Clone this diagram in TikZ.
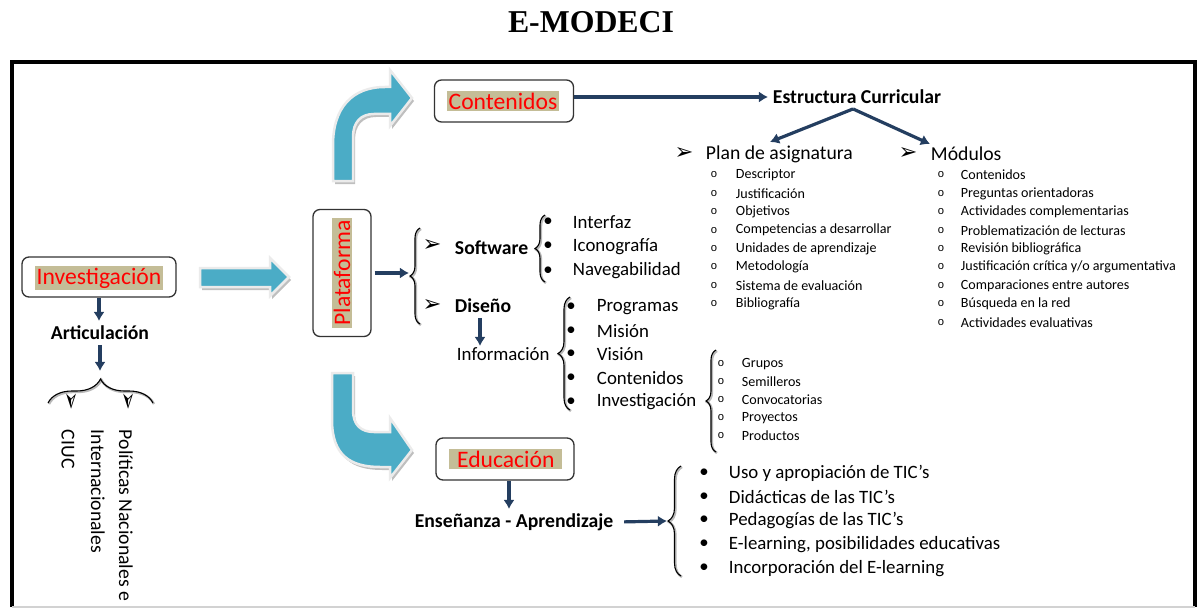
\documentclass[tikz,border=0pt]{standalone}
\usepackage{fontspec}
\setmainfont{Carlito}
\newfontfamily\titlefont{Liberation Serif}
\newfontfamily\symfont{DejaVu Sans}
\newfontfamily\ofont{Liberation Mono}
\usetikzlibrary{arrows.meta,decorations.pathreplacing}

\definecolor{tanbg}{RGB}{196,189,151}
\definecolor{darrow}{RGB}{36,62,96}
\definecolor{bluearrow}{RGB}{75,172,198}
\newdimen\pxd \pxd=0.025cm

\tikzset{
  outbox/.style={draw=black!80, line width=1.3\pxd, rounded corners=7\pxd, fill=white},
  tanlbl/.style={fill=tanbg, text=red, inner xsep=2\pxd, inner ysep=1.5\pxd, font=\fontsize{16.8}{18}\selectfont},
  darr/.style={draw=darrow, line width=3.2\pxd, -{Latex[length=6.5pt,width=8pt]}},
  brc/.style={decorate, decoration={brace}, line width=1.1\pxd},
  brcshade/.style={brc, gray!55, line width=2.4\pxd},
  boldlbl/.style={font=\bfseries\fontsize{14}{16}\selectfont},
  item/.style={anchor=west, font=\fontsize{13.4}{16}\selectfont},
  smallitem/.style={anchor=west, font=\fontsize{10}{12}\selectfont},
  dot/.style={font=\fontsize{13.4}{16}\selectfont},
  circ/.style={font=\ofont\fontsize{8}{9}\selectfont},
  pointer/.style={font=\symfont\fontsize{16}{16}\selectfont, inner sep=0pt},
  bluearr/.style={fill=bluearrow, draw=black!8, line width=2.5\pxd},
  blueshadow/.style={fill=gray!50, shift={(2,3)}}
}

\begin{document}
\begin{tikzpicture}[x=0.025cm, y=-0.025cm]
\useasboundingbox (0,0) rectangle (1199,611);

\node[font=\titlefont\bfseries\fontsize{22.6}{26}\selectfont] (title) at (591,22) {E-MODECI};

% frame
\draw[line width=3.5\pxd] (12,607) -- (12,62) -- (1195,62) -- (1195,607);
\draw[gray!35, line width=1.5\pxd] (12,607) -- (1195,607);

% big arrows
\fill[blueshadow] (200,268) -- (270,268) -- (270,258) -- (289,277) -- (270,296) -- (270,287) -- (200,287) -- cycle;
\filldraw[bluearr] (200,268) -- (270,268) -- (270,258) -- (289,277) -- (270,296) -- (270,287) -- (200,287) -- cycle;

\fill[blueshadow] (333,181) -- (333,145) .. controls (333,108) and (352,87) .. (385,87) -- (390,87) -- (390,70) -- (412,98) -- (390,126) -- (390,114) -- (374,114) .. controls (361,114) and (353,122) .. (353,137) -- (353,181) -- cycle;
\filldraw[bluearr] (333,181) -- (333,145) .. controls (333,108) and (352,87) .. (385,87) -- (390,87) -- (390,70) -- (412,98) -- (390,126) -- (390,114) -- (374,114) .. controls (361,114) and (353,122) .. (353,137) -- (353,181) -- cycle;

\fill[blueshadow] (332,373) -- (332,420) .. controls (332,455) and (350,467) .. (380,467) -- (390,467) -- (390,478) -- (412,450) -- (390,418) -- (390,432) -- (374,432) .. controls (361,432) and (353,425) .. (353,410) -- (353,373) -- cycle;
\filldraw[bluearr] (332,373) -- (332,420) .. controls (332,455) and (350,467) .. (380,467) -- (390,467) -- (390,478) -- (412,450) -- (390,418) -- (390,432) -- (374,432) .. controls (361,432) and (353,425) .. (353,410) -- (353,373) -- cycle;

% Investigacion
\node[outbox, minimum width=154\pxd, minimum height=40\pxd] (invbox) at (99,277) {};
\node[tanlbl] (inv) at (99,278) {Investigación};
\node[boldlbl] (art) at (100,333) {Articulación};
\draw[darr] (invbox.south) -- (invbox.south |- art.north);
\coordinate (arttip) at (100,371);
\draw[darr] (art.south) -- (arttip);
\draw[brcshade, decoration={amplitude=24\pxd}] (49,404) -- (154,404);
\draw[brc, decoration={amplitude=24\pxd}] (48,403) -- (153,403);
\node[pointer, rotate=-90] (ptA) at (70,401) {➢};
\node[pointer, rotate=-90] (ptB) at (127,401) {➢};
\node[rotate=-90, anchor=west, font=\fontsize{14}{19.9}\selectfont] (ciuc) at (68,425) {CIUC};
\node[rotate=-90, anchor=west, align=left, font=\fontsize{14}{19.9}\selectfont] (polit) at (112,425) {Políticas Nacionales e\\Internacionales};

% Plataforma
\node[outbox, minimum width=58\pxd, minimum height=127\pxd] (platbox) at (342,273) {};
\node[tanlbl, rotate=90] (plat) at (342,273) {Plataforma};
\coordinate (plattip) at (409,273);
\draw[darr, shorten <=3\pxd] (platbox.east) -- (plattip);
\draw[brcshade, decoration={amplitude=10\pxd}] (421,325) -- (421,229);
\draw[brc, decoration={amplitude=10\pxd}] (420,324) -- (420,228);

\node[pointer] (ptsoft) at (432,246) {➢};
\node[boldlbl, anchor=west] (soft) at (450,248) {Software};
\node[pointer] (ptdis) at (432,305) {➢};
\node[boldlbl, anchor=west] (dis) at (450,306) {Diseño};

\draw[brcshade, decoration={amplitude=10\pxd}] (546,283) -- (546,216);
\draw[brc, decoration={amplitude=10\pxd}] (545,282) -- (545,215);
\foreach \txt [count=\i] in {Interfaz, Iconografía, Navegabilidad} {
  \node[dot] (sd\i) at (548,{222+24.5*(\i-1)}) {•};
  \node[item] (sw\i) at (568,{222+24.5*(\i-1)}) {\txt};
}

\node[item] (info) at (452,354) {Información};
\draw[darr] (dis.south -| 480,0) -- (480,346);
\draw[brcshade, decoration={amplitude=12\pxd}] (571,411) -- (571,298);
\draw[brc, decoration={amplitude=12\pxd}] (570,410) -- (570,297);
\foreach \txt [count=\i] in {Programas, Misión, Visión, Contenidos, Investigación} {
  \node[dot] (id\i) at (571,{307+23.7*(\i-1)}) {•};
  \node[item] (in\i) at (592,{307+23.7*(\i-1)}) {\txt};
}

\draw[brcshade, decoration={amplitude=10\pxd}] (717,453) -- (717,351);
\draw[brc, decoration={amplitude=10\pxd}] (716,452) -- (716,350);
\foreach \txt [count=\i] in {Grupos, Semilleros, Convocatorias, Proyectos, Productos} {
  \node[circ] (gc\i) at (721,{364+18*(\i-1)}) {o};
  \node[smallitem] (gr\i) at (737,{364+18*(\i-1)}) {\txt};
}

% Contenidos
\node[outbox, minimum width=139\pxd, minimum height=42\pxd] (contbox) at (504,101) {};
\node[tanlbl] (cont) at (503,101) {Contenidos};
\node[boldlbl, anchor=west] (estr) at (768,97) {Estructura Curricular};
\draw[darr] (contbox.east |- estr.west) -- (estr.west);
\coordinate (plantip) at (770,142);
\coordinate (modtip) at (930,144);
\draw[darr] (estr.south) ++(-4,0) coordinate (estrfoot) -- (plantip);
\draw[darr] (estrfoot) -- (modtip);

\node[pointer] (ptplan) at (684,154) {➢};
\node[anchor=west, font=\fontsize{14}{16}\selectfont] (plan) at (701,154) {Plan de asignatura};
\node[pointer] (ptmod) at (908,154) {➢};
\node[anchor=west, font=\fontsize{14}{16}\selectfont] (mod) at (926,154) {Módulos};

\foreach \txt [count=\i] in {Descriptor, Justificación, Objetivos, Competencias a desarrollar,
    Unidades de aprendizaje, Metodología, Sistema de evaluación, Bibliografía} {
  \node[circ] (pc\i) at (714,{175+18.4*(\i-1)}) {o};
  \node[smallitem] (pl\i) at (731,{175+18.4*(\i-1)}) {\txt};
}
\foreach \txt [count=\i] in {Contenidos, Preguntas orientadoras, Actividades complementarias,
    Problematización de lecturas, Revisión bibliográfica, Justificación crítica y/o argumentativa,
    Comparaciones entre autores, Búsqueda en la red, Actividades evaluativas} {
  \node[circ] (mc\i) at (941,{175+18.4*(\i-1)}) {o};
  \node[smallitem] (mo\i) at (956,{175+18.4*(\i-1)}) {\txt};
}

% Educacion
\node[outbox, minimum width=138\pxd, minimum height=42\pxd] (edubox) at (505,459) {};
\node[tanlbl, anchor=west, inner xsep=3\pxd, minimum width=113\pxd, align=left] (edu) at (449,459) {Educación};
\node[boldlbl] (ens) at (514,522) {Enseñanza - Aprendizaje};
\draw[darr] (edubox.south -| 509,0) -- (509,509);
\coordinate (enstip) at (667,521);
\draw[darr, shorten <=6\pxd] (ens.east) -- (enstip);
\draw[brcshade, decoration={amplitude=13\pxd}] (682,577) -- (682,467);
\draw[brc, decoration={amplitude=13\pxd}] (681,576) -- (681,466);
\foreach \txt [count=\i] in {Uso y apropiación de TIC’s, Didácticas de las TIC’s, Pedagogías de las TIC’s,
    {E-learning, posibilidades educativas}, Incorporación del E-learning} {
  \node[dot] (ed\i) at (704,{473+23.8*(\i-1)}) {•};
  \node[item] (el\i) at (724,{473+23.8*(\i-1)}) {\txt};
}

\end{tikzpicture}
\end{document}
